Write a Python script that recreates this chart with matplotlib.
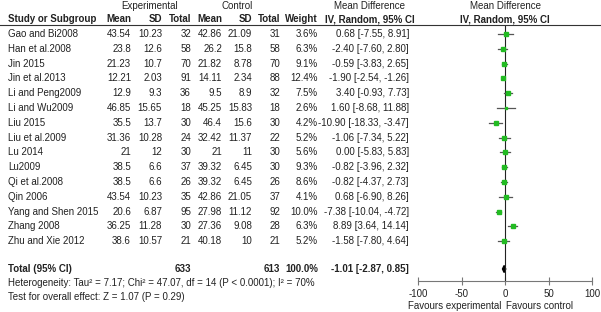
import matplotlib.pyplot as plt
import numpy as np

plt.rcParams['font.family'] = ['Liberation Sans', 'DejaVu Sans']
plt.rcParams['axes.unicode_minus'] = False

# data
studies = ["Gao and Bi2008", "Han et al.2008", "Jin 2015", "Jin et al.2013",
           "Li and Peng2009", "Li and Wu2009", "Liu 2015", "Liu et al.2009",
           "Lu 2014", "Lu2009", "Qi et al.2008", "Qin 2006",
           "Yang and Shen 2015", "Zhang 2008", "Zhu and Xie 2012"]
exp_mean = ["43.54", "23.8", "21.23", "12.21", "12.9", "46.85", "35.5", "31.36",
            "21", "38.5", "38.5", "43.54", "20.6", "36.25", "38.6"]
exp_sd = ["10.23", "12.6", "10.7", "2.03", "9.3", "15.65", "13.7", "10.28",
          "12", "6.6", "6.6", "10.23", "6.87", "11.28", "10.57"]
exp_n = [32, 58, 70, 91, 36, 18, 30, 24, 30, 37, 26, 35, 95, 30, 21]
ctl_mean = ["42.86", "26.2", "21.82", "14.11", "9.5", "45.25", "46.4", "32.42",
            "21", "39.32", "39.32", "42.86", "27.98", "27.36", "40.18"]
ctl_sd = ["21.09", "15.8", "8.78", "2.34", "8.9", "15.83", "15.6", "11.37",
          "11", "6.45", "6.45", "21.05", "11.12", "9.08", "10"]
ctl_n = [31, 58, 70, 88, 32, 18, 30, 22, 30, 30, 26, 37, 92, 28, 21]
weight = [3.6, 6.3, 9.1, 12.4, 7.5, 2.6, 4.2, 5.2, 5.6, 9.3, 8.6, 4.1, 10.0, 6.3, 5.2]
md = [0.68, -2.40, -0.59, -1.90, 3.40, 1.60, -10.90, -1.06, 0.00, -0.82, -0.82,
      0.68, -7.38, 8.89, -1.58]
lo = [-7.55, -7.60, -3.83, -2.54, -0.93, -8.68, -18.33, -7.34, -5.83, -3.96,
      -4.37, -6.90, -10.04, 3.64, -7.80]
hi = [8.91, 2.80, 2.65, -1.26, 7.73, 11.88, -3.47, 5.22, 5.83, 2.32, 2.73,
      8.26, -4.72, 14.14, 4.64]
total_md, total_lo, total_hi = -1.01, -2.87, 0.85
xticks = [-100, -50, 0, 50, 100]

W, H = 601, 312
fig = plt.figure(figsize=(W / 100, H / 100), dpi=100)
fig.patch.set_facecolor('white')

# text layer in pixel coordinates
tx = fig.add_axes([0, 0, 1, 1])
tx.set_xlim(0, W)
tx.set_ylim(H, 0)
tx.axis('off')

fs = 7
rows_y = 34 + 14.8 * np.arange(len(studies))
total_y = 269

def t(x, y, s, ha='right', bold=False):
    tx.text(x, y, s, ha=ha, va='center', fontsize=fs, color='#222222',
            fontweight='bold' if bold else 'normal')

# headers
t(150, 6, "Experimental", ha='center')
t(237, 6, "Control", ha='center')
t(370, 6, "Mean Difference", ha='center')
t(505, 6, "Mean Difference", ha='center')
t(8, 19, "Study or Subgroup", ha='left', bold=True)
for x, s in [(131, "Mean"), (162, "SD"), (191, "Total"), (222, "Mean"),
             (252, "SD"), (280, "Total"), (318, "Weight")]:
    t(x, 19, s, bold=True)
t(370, 19, "IV, Random, 95% CI", ha='center', bold=True)
t(505, 19, "IV, Random, 95% CI", ha='center', bold=True)
tx.plot([0, W], [25, 25], color='#333333', lw=0.8)

for i, y in enumerate(rows_y):
    t(8, y, studies[i], ha='left')
    t(131, y, exp_mean[i])
    t(162, y, exp_sd[i])
    t(191, y, str(exp_n[i]))
    t(222, y, ctl_mean[i])
    t(252, y, ctl_sd[i])
    t(280, y, str(ctl_n[i]))
    t(318, y, f"{weight[i]:.1f}%")
    t(409, y, f"{md[i]:.2f} [{lo[i]:.2f}, {hi[i]:.2f}]")

t(8, total_y, "Total (95% CI)", ha='left', bold=True)
t(191, total_y, str(sum(exp_n)), bold=True)
t(280, total_y, str(sum(ctl_n)), bold=True)
t(318, total_y, "100.0%", bold=True)
t(409, total_y, f"{total_md:.2f} [{total_lo:.2f}, {total_hi:.2f}]", bold=True)
t(8, 283, "Heterogeneity: Tau² = 7.17; Chi² = 47.07, df = 14 (P < 0.0001); I² = 70%", ha='left')
t(8, 297, "Test for overall effect: Z = 1.07 (P = 0.29)", ha='left')

# forest plot
ax = fig.add_axes([418 / W, (H - 281) / H, 174 / W, (281 - 26) / H])
ax.set_xlim(-100, 100)
ax.set_ylim(281, 26)
ax.patch.set_alpha(0)
for s in ['top', 'right', 'left']:
    ax.spines[s].set_visible(False)
ax.spines['bottom'].set_color('#777777')
ax.set_yticks([])
ax.set_xticks(xticks)
ax.tick_params(axis='x', direction='inout', length=6, color='#777777',
               labelsize=fs, labelcolor='#222222', pad=3)
ax.axvline(0, color='#222222', lw=0.8)

for i, y in enumerate(rows_y):
    ax.plot([lo[i], hi[i]], [y, y], color='#555555', lw=0.9)
    ax.plot(md[i], y, marker='s', ms=1.6 + 0.16 * weight[i],
            color='#22bb22', mec='#22bb22')

ax.fill([total_lo, total_md, total_hi, total_md],
        [total_y, total_y - 3.5, total_y, total_y + 3.5], color='black')

fig.text(455 / W, 1 - 306 / H, "Favours experimental", ha='center', va='center',
         fontsize=fs, color='#222222')
fig.text(540 / W, 1 - 306 / H, "Favours control", ha='center', va='center',
         fontsize=fs, color='#222222')

fig.savefig("out.png", dpi=100)
